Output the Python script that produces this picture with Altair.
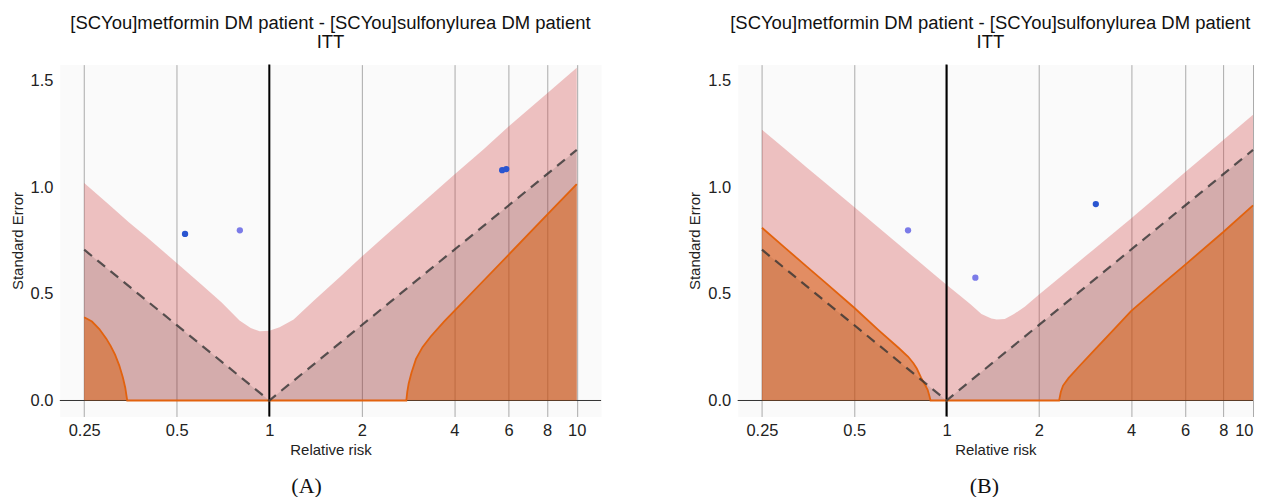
import altair as alt
import pandas as pd

# ---------------- data ----------------
TITLE_LINES = ["[SCYou]metformin DM patient - [SCYou]sulfonylurea DM patient", "ITT"]
X_TICKS = [0.25, 0.5, 1, 2, 4, 6, 8, 10]
Y_TICKS = [0.0, 0.5, 1.0, 1.5]
CAPTIONS = ["(A)", "(B)"]

# dashed boundary (traditional p = 0.05)
DASH_X = [0.25, 1.0, 10.0]
DASH_Y = [0.707, 0.0, 1.175]

# Panel A: upper edge of the pink prediction band
A_BAND_X = [0.25, 0.30, 0.35, 0.40, 0.50, 0.60, 0.70, 0.80, 0.87, 0.93, 1.00, 1.08, 1.20,
            1.40, 1.70, 2.00, 2.50, 3.00, 4.00, 5.00, 6.00, 8.00, 10.0]
A_BAND_Y = [1.02, 0.92, 0.835, 0.765, 0.645, 0.545, 0.46, 0.375, 0.34, 0.325, 0.327, 0.343, 0.38,
            0.47, 0.58, 0.675, 0.80, 0.90, 1.06, 1.18, 1.285, 1.44, 1.56]
# Panel A: calibrated p = 0.05 boundary (orange)
A_OR_X = [0.25, 0.265, 0.28, 0.295, 0.305, 0.315, 0.325, 0.334, 0.34, 0.345,
          2.79, 2.81, 2.84, 2.90, 3.00, 3.15, 3.35, 3.70, 4.00, 5.00, 6.00, 8.00, 10.0]
A_OR_Y = [0.39, 0.37, 0.335, 0.29, 0.255, 0.215, 0.165, 0.108, 0.06, 0.0,
          0.0, 0.04, 0.08, 0.13, 0.195, 0.25, 0.30, 0.37, 0.42, 0.565, 0.683, 0.87, 1.015]
# Panel A: negative-control estimates
A_PT_X = [0.532, 0.802, 5.72, 5.90]
A_PT_Y = [0.781, 0.798, 1.080, 1.085]
A_PT_SHADE = ["dark", "light", "dark", "dark"]

# Panel B
B_BAND_X = [0.25, 0.30, 0.35, 0.40, 0.50, 0.60, 0.70, 0.80, 0.90, 1.00, 1.10, 1.20, 1.30,
            1.40, 1.46, 1.55, 1.66, 1.80, 2.00, 2.50, 3.00, 4.00, 5.00, 6.00, 8.00, 10.0]
B_BAND_Y = [1.27, 1.175, 1.093, 1.023, 0.907, 0.811, 0.73, 0.66, 0.598, 0.543, 0.495, 0.45, 0.405,
            0.385, 0.38, 0.382, 0.405, 0.44, 0.496, 0.611, 0.705, 0.853, 0.972, 1.07, 1.222, 1.34]
B_OR_X = [0.25, 0.30, 0.35, 0.40, 0.50, 0.60, 0.70, 0.75, 0.78, 0.80, 0.826, 0.85, 0.868, 0.88, 0.887,
          2.33, 2.36, 2.40, 2.50, 2.72, 3.00, 3.50, 4.00, 5.00, 6.00, 8.00, 10.0]
B_OR_Y = [0.81, 0.711, 0.628, 0.556, 0.435, 0.33, 0.245, 0.205, 0.175, 0.15, 0.107, 0.075, 0.05, 0.02, 0.0,
          0.0, 0.04, 0.07, 0.105, 0.163, 0.228, 0.33, 0.419, 0.54, 0.636, 0.79, 0.915]
B_PT_X = [0.749, 1.242, 3.07]
B_PT_Y = [0.798, 0.576, 0.921]
B_PT_SHADE = ["light", "light", "dark"]

# ---------------- styling ----------------
H = 353
YDOM = [-0.075, 1.575]
SANS = "Liberation Sans"
SERIF = "Liberation Serif"

YSCALE = alt.Scale(domain=YDOM, nice=False, zero=False)
XAXIS = alt.Axis(values=X_TICKS, format="~g", grid=True, gridColor="#aaaaaa",
                 gridWidth=1, domain=False, ticks=False, labelFontSize=16.5,
                 labelFont=SANS, labelColor="#222", labelPadding=6,
                 titleFont=SANS, titleFontSize=15, titleFontWeight="normal",
                 titleColor="#222", titlePadding=4, labelFlush=True)
YAXIS = alt.Axis(values=Y_TICKS, format=".1f", grid=False, domain=False,
                 ticks=False, labelFontSize=16.5, labelFont=SANS,
                 labelColor="#222", labelPadding=7, titleFont=SANS,
                 titleFontSize=15, titleFontWeight="normal",
                 titleColor="#222", titlePadding=5)


def panel(band_x, band_y, or_x, or_y, px, py, pshade, caption, width, xdom, title_dx):
    xscale = alt.Scale(type="log", domain=xdom, nice=False)

    def xenc():
        return alt.X("x:Q", scale=xscale, title="Relative risk", axis=XAXIS)

    def yenc():
        return alt.Y("y:Q", scale=YSCALE, title="Standard Error", axis=YAXIS)

    band = pd.DataFrame({"x": band_x, "y": band_y})
    dash = pd.DataFrame({"x": DASH_X, "y": DASH_Y})
    orange = pd.DataFrame({"x": or_x, "y": or_y})
    pts = pd.DataFrame({"x": px, "y": py, "shade": pshade})
    cap = pd.DataFrame({"t": [caption]})
    ref = pd.DataFrame({"x": [1.0], "y": [0.0]})

    band_l = alt.Chart(band).mark_area(color="#d23c3c", opacity=0.3).encode(
        x=xenc(), y=yenc(), y2=alt.Y2(datum=0))
    one = alt.Chart(ref).mark_rule(color="black", strokeWidth=2).encode(x=xenc())
    zero = alt.Chart(ref).mark_rule(color="#333333", strokeWidth=1).encode(y=yenc())
    tri = alt.Chart(dash).mark_area(color="black", opacity=0.1).encode(
        x=xenc(), y=yenc(), y2=alt.Y2(datum=0))
    or_area = alt.Chart(orange).mark_area(color="#d85a06", opacity=0.5).encode(
        x=xenc(), y=yenc(), y2=alt.Y2(datum=0))
    or_line = alt.Chart(orange).mark_line(color="#e2620e", strokeWidth=1.8).encode(
        x=xenc(), y=yenc())
    dash_l = alt.Chart(dash).mark_line(color="#333333", strokeWidth=2.2, opacity=0.8,
                                       strokeDash=[10, 7]).encode(x=xenc(), y=yenc())
    pts_l = alt.Chart(pts).mark_circle(size=40, opacity=1).encode(
        x=xenc(), y=yenc(),
        color=alt.Color("shade:N", scale=alt.Scale(domain=["dark", "light"],
                                                   range=["#2a55d0", "#7b7be8"]), legend=None))
    cap_l = alt.Chart(cap).mark_text(font=SERIF, fontSize=22, align="center",
                                     baseline="middle", color="#111").encode(
        text="t:N", x=alt.value(271.5 - 24), y=alt.value(H + 70))

    return alt.layer(band_l, one, zero, tri, or_area, or_line, dash_l, pts_l, cap_l).properties(
        width=width, height=H,
        title=alt.Title(TITLE_LINES, font=SANS, fontSize=18.5, fontWeight="normal",
                        color="#111", lineHeight=19, anchor="middle", offset=12, dx=title_dx))


pa = panel(A_BAND_X, A_BAND_Y, A_OR_X, A_OR_Y, A_PT_X, A_PT_Y, A_PT_SHADE, CAPTIONS[0],
           543, [0.2083, 12.0], 0)
pb = panel(B_BAND_X, B_BAND_Y, B_OR_X, B_OR_Y, B_PT_X, B_PT_Y, B_PT_SHADE, CAPTIONS[1],
           517, [0.2083, 10.0], -5)

chart = alt.hconcat(pa, pb, spacing=85).properties(
    padding={"left": 1, "right": 3, "top": 5, "bottom": 5}
).configure_view(fill="#fafafa", stroke="transparent")

chart.save("out.html", embed_options={"renderer": "svg", "actions": False})
